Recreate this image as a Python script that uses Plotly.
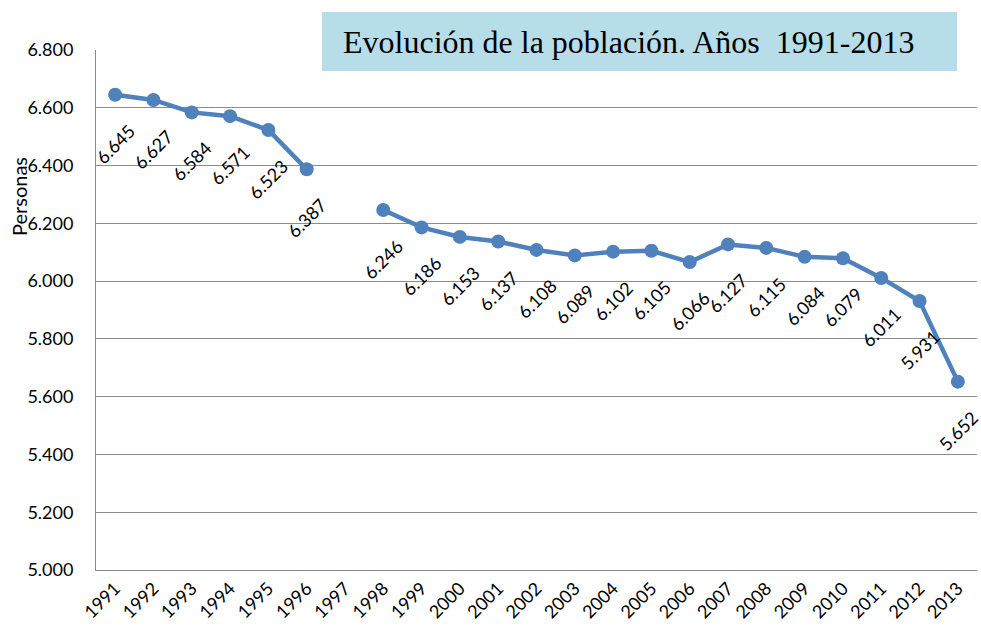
import plotly.graph_objects as go

years = ["1991", "1992", "1993", "1994", "1995", "1996", "1997", "1998", "1999", "2000",
         "2001", "2002", "2003", "2004", "2005", "2006", "2007", "2008", "2009", "2010",
         "2011", "2012", "2013"]
personas = [6645, 6627, 6584, 6571, 6523, 6387, None, 6246, 6186, 6153,
            6137, 6108, 6089, 6102, 6105, 6066, 6127, 6115, 6084, 6079,
            6011, 5931, 5652]
y_ticks = [5000, 5200, 5400, 5600, 5800, 6000, 6200, 6400, 6600, 6800]
title_text = "Evolución de la población. Años  1991-2013"
y_title = "Personas"

FONT = "Lato, Open Sans, sans-serif"

def fmt(v):
    return f"{v:,}".replace(",", ".")

fig = go.Figure()
fig.add_trace(go.Scatter(
    x=years, y=personas, mode="lines+markers",
    line=dict(color="#4F81BD", width=4.5),
    marker=dict(color="#4F81BD", size=14),
    connectgaps=False, hoverinfo="skip", showlegend=False,
))

annotations = []
for i, v in enumerate(personas):
    if v is None:
        continue
    annotations.append(dict(
        x=i, y=v, xref="x", yref="y", text=fmt(v), showarrow=False,
        textangle=-45, yshift=-49, xshift=0,
        xanchor="center", yanchor="middle",
        font=dict(family=FONT, size=18, color="#000000"),
    ))

annotations.append(dict(
    x=(341 - 96) / 881, y=(570 - 42) / 520, xref="paper", yref="paper",
    text=title_text, showarrow=False, xanchor="left", yanchor="middle",
    font=dict(family="Liberation Serif, Times New Roman, serif", size=32, color="#000"),
))
annotations.append(dict(
    x=-77 / 881, y=(570 - 197) / 520, xref="paper", yref="paper",
    text=y_title, showarrow=False, textangle=-90, xanchor="center", yanchor="middle",
    font=dict(family=FONT, size=20, color="#000"),
))

fig.update_layout(
    width=981, height=628,
    margin=dict(l=96, r=4, t=50, b=58),
    paper_bgcolor="white", plot_bgcolor="white",
    annotations=annotations,
    shapes=[dict(
        type="rect", xref="paper", yref="paper", layer="above",
        x0=(322 - 96) / 881, x1=(957 - 96) / 881,
        y0=(570 - 71) / 520, y1=(570 - 12) / 520,
        fillcolor="#B7DDE8", line=dict(width=0),
    )],
    xaxis=dict(
        type="category", categoryorder="array", categoryarray=years,
        tickangle=-45, showgrid=False, showline=True, linecolor="#888", linewidth=1,
        ticks="", tickfont=dict(family=FONT, size=18, color="#000"),
        range=[-0.5, len(years) - 0.5], fixedrange=True,
    ),
    yaxis=dict(
        range=[5000, 6800], tickvals=y_ticks, ticktext=[fmt(t) for t in y_ticks],
        showgrid=True, gridcolor="#8C8C8C", gridwidth=1,
        showline=True, linecolor="#888", linewidth=1, zeroline=False,
        ticks="", ticklabelstandoff=18, fixedrange=True,
        tickfont=dict(family=FONT, size=18, color="#000"),
    ),
)

fig.write_html("out.html", config={"displayModeBar": False},
               post_script="document.body.style.margin='0';")
